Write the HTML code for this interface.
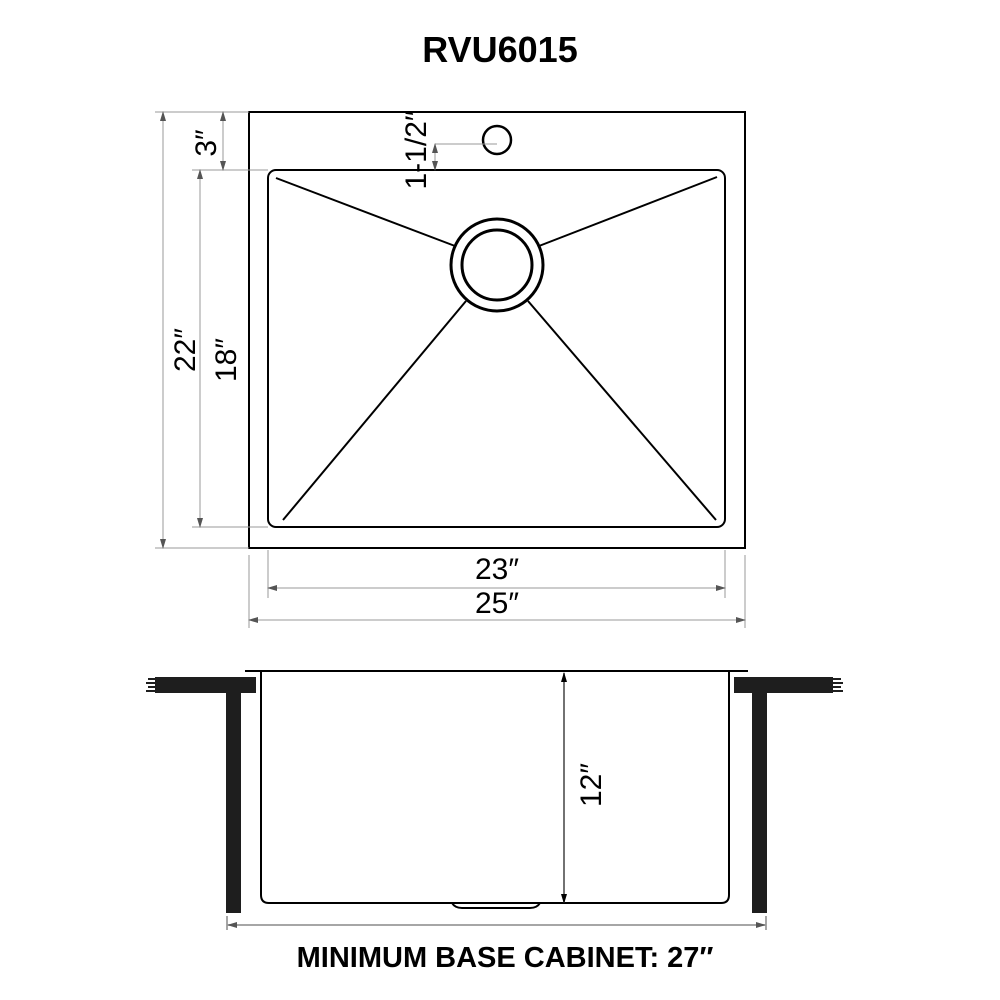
<!DOCTYPE html>
<html><head><meta charset="utf-8"><style>
html,body{margin:0;padding:0;background:#fff;}
svg{display:block;}
text{font-family:"Liberation Sans","DejaVu Sans",sans-serif;fill:#000;}
</style></head><body>
<svg width="1000" height="1000" viewBox="0 0 1000 1000" xmlns="http://www.w3.org/2000/svg">
<defs>
<marker id="a" markerWidth="10" markerHeight="6" refX="9" refY="3" orient="auto-start-reverse" markerUnits="userSpaceOnUse"><path d="M0,0 L10,3 L0,6 z" fill="#555"/></marker>
<marker id="ab" markerWidth="10" markerHeight="6" refX="9" refY="3" orient="auto-start-reverse" markerUnits="userSpaceOnUse"><path d="M0,0 L10,3 L0,6 z" fill="#000"/></marker>
</defs>
<text x="500" y="62" font-size="36" font-weight="bold" text-anchor="middle">RVU6015</text>

<!-- top view -->
<rect x="249" y="112" width="496" height="436" fill="none" stroke="#000" stroke-width="2"/>
<rect x="268" y="170" width="457" height="357" rx="8" fill="none" stroke="#000" stroke-width="2"/>
<g stroke="#000" stroke-width="2" fill="none">
<line x1="276" y1="178" x2="455" y2="246"/>
<line x1="717" y1="177" x2="539" y2="246"/>
<line x1="283" y1="520" x2="466" y2="301"/>
<line x1="716" y1="520" x2="528" y2="301"/>
<circle cx="497" cy="265" r="46" stroke-width="3"/>
<circle cx="497" cy="265" r="35" stroke-width="3"/>
<circle cx="497" cy="140" r="14" stroke-width="2.5"/>
</g>
<g stroke="#999" stroke-width="1" fill="none">
<line x1="155" y1="112" x2="249" y2="112"/>
<line x1="155" y1="548" x2="249" y2="548"/>
<line x1="192" y1="170" x2="268" y2="170"/>
<line x1="192" y1="527" x2="268" y2="527"/>
<line x1="163" y1="112" x2="163" y2="548" marker-start="url(#a)" marker-end="url(#a)"/>
<line x1="223" y1="112" x2="223" y2="170" marker-start="url(#a)" marker-end="url(#a)"/>
<line x1="200" y1="170" x2="200" y2="527" marker-start="url(#a)" marker-end="url(#a)"/>
<line x1="435" y1="144" x2="497" y2="144"/>
<line x1="435" y1="144" x2="435" y2="170" marker-start="url(#a)" marker-end="url(#a)"/>
<line x1="268" y1="550" x2="268" y2="598"/>
<line x1="725" y1="550" x2="725" y2="598"/>
<line x1="249" y1="555" x2="249" y2="628"/>
<line x1="745" y1="555" x2="745" y2="628"/>
<line x1="268" y1="588" x2="725" y2="588" marker-start="url(#a)" marker-end="url(#a)"/>
<line x1="249" y1="620" x2="745" y2="620" marker-start="url(#a)" marker-end="url(#a)"/>
</g>
<g font-size="30" font-weight="500">
<text transform="translate(216,143) rotate(-90)" text-anchor="middle">3″</text>
<text transform="translate(195,350) rotate(-90)" text-anchor="middle">22″</text>
<text transform="translate(236,360) rotate(-90)" text-anchor="middle">18″</text>
<text transform="translate(426,150) rotate(-90)" text-anchor="middle">1-1/2″</text>
<text x="497" y="579" text-anchor="middle">23″</text>
<text x="497" y="613" text-anchor="middle">25″</text>
</g>

<!-- side view -->
<line x1="245" y1="671" x2="748" y2="671" stroke="#000" stroke-width="2"/>
<path d="M261,672 V895 Q261,903 269,903 H721 Q729,903 729,895 V672" fill="none" stroke="#000" stroke-width="2"/>
<path d="M452,903 Q455,908 462,908 H530 Q537,908 540,903" fill="none" stroke="#000" stroke-width="2"/>
<rect x="155" y="677" width="101" height="16" fill="#1e1e1e"/>
<rect x="226" y="693" width="15" height="220" fill="#1e1e1e"/>
<rect x="734" y="677" width="99" height="16" fill="#1e1e1e"/>
<rect x="752" y="693" width="15" height="220" fill="#1e1e1e"/>
<g stroke="#1e1e1e" stroke-width="2">
<line x1="148" y1="679" x2="156" y2="679"/><line x1="146" y1="683" x2="156" y2="683"/><line x1="148" y1="687" x2="156" y2="687"/><line x1="146" y1="691" x2="156" y2="691"/>
<line x1="833" y1="679" x2="841" y2="679"/><line x1="833" y1="683" x2="843" y2="683"/><line x1="833" y1="687" x2="841" y2="687"/><line x1="833" y1="691" x2="843" y2="691"/>
</g>
<line x1="564" y1="673" x2="564" y2="903" stroke="#444" stroke-width="1.5" marker-start="url(#ab)" marker-end="url(#ab)"/>
<text transform="translate(601,785) rotate(-90)" font-size="30" text-anchor="middle">12″</text>
<g stroke="#888" stroke-width="1.5">
<line x1="227" y1="916" x2="227" y2="930"/>
<line x1="766" y1="916" x2="766" y2="930"/>
<line x1="228" y1="925" x2="765" y2="925" marker-start="url(#a)" marker-end="url(#a)"/>
</g>
<text x="505" y="967" font-size="29" font-weight="bold" text-anchor="middle">MINIMUM BASE CABINET: 27″</text>
</svg>
</body></html>
